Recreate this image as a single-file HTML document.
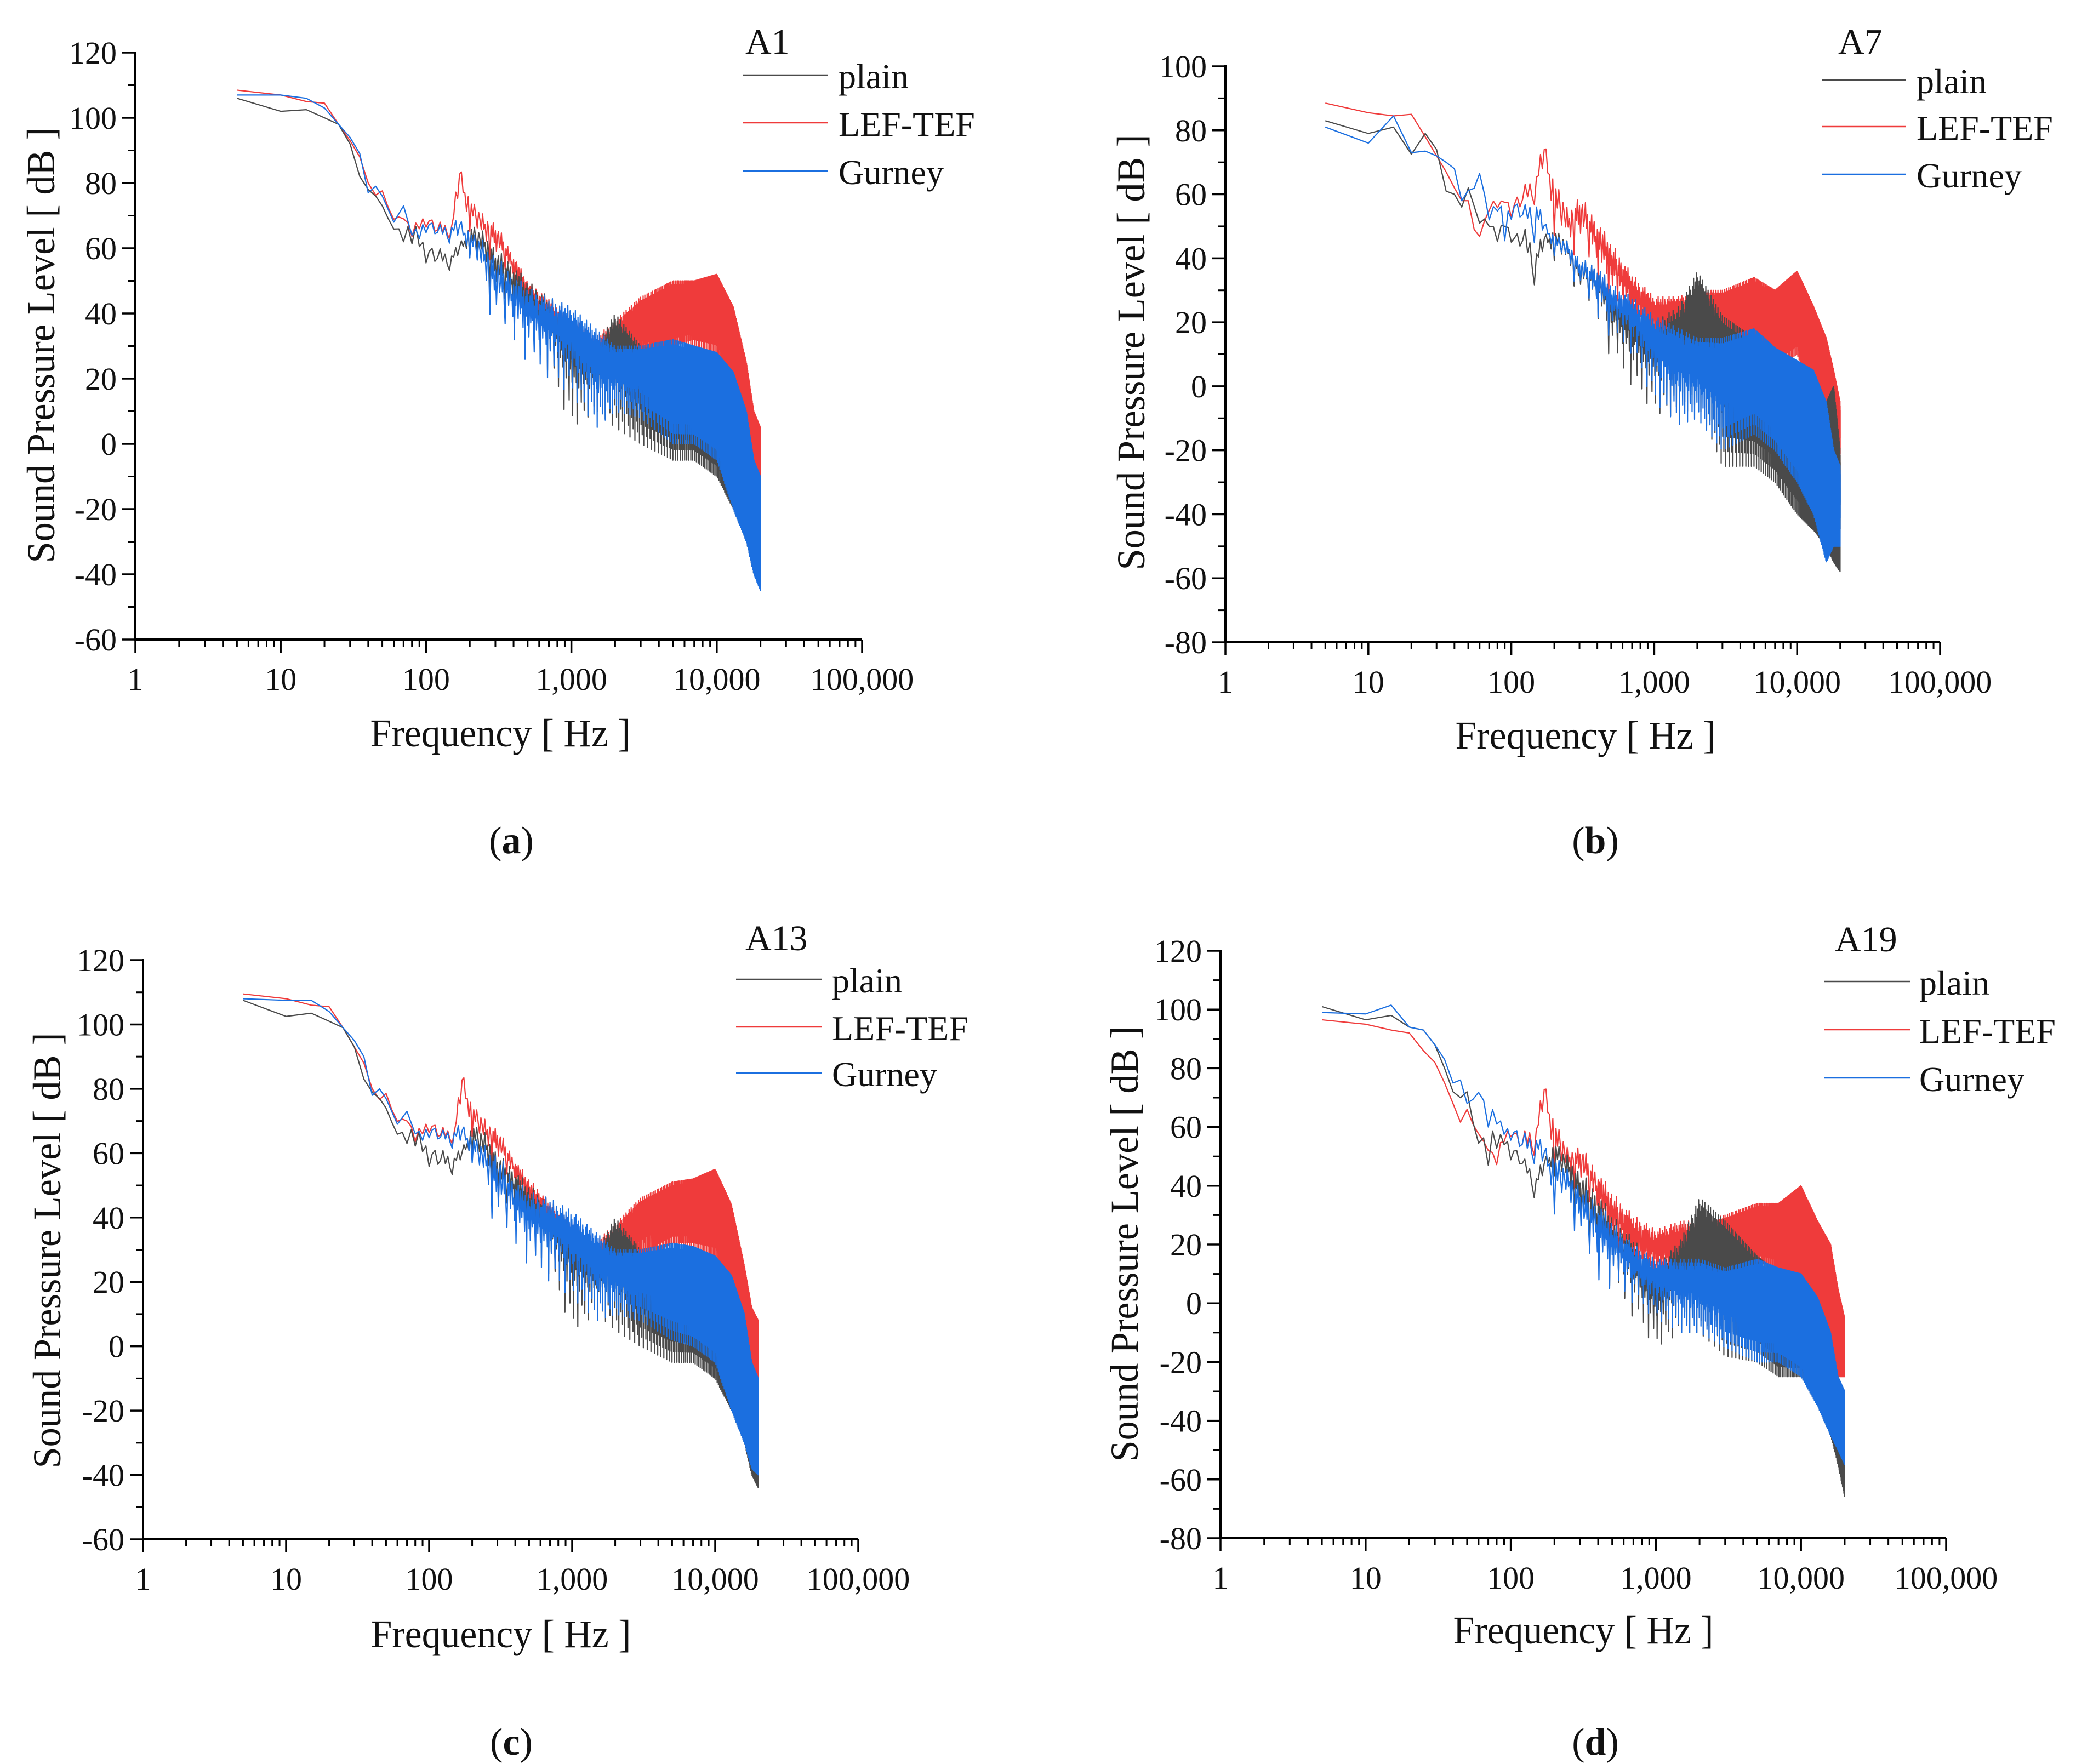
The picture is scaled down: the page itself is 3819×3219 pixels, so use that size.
<!DOCTYPE html>
<html><head><meta charset="utf-8"><style>
html,body{margin:0;padding:0;background:#fff;}
svg{display:block;}
text{font-family:"Liberation Serif",serif;fill:#111;}
</style></head><body>
<svg id="fig" width="3819" height="3219" viewBox="0 0 3819 3219" xmlns="http://www.w3.org/2000/svg"></svg>
<script>
// Shared frequency breakpoints (Hz) at which envelopes were read
const freqs = [5,10,15,20,25,30,35,40,45,50,60,70,80,90,100,120,150,170,200,250,300,400,500,700,1000,1500,2000,3000,5000,7000,10000,13000,16000,18000,20000];
// Panel a (A1)
const aPlainHi = [106,102,102.5,100,98,92,82,78,76,73,66,68,69,66,62,60,59,62,68,65,60,55,50,45,40,30,40,30,28,26,24,16,5,-10,-30];
const aPlainLo = [106,102,102.5,100,98,92,82,78,76,73,65,62,50,55,52,50,52,55,56,52,45,38,30,22,5,10,5,0,-5,-5,-10,-20,-30,-40,-42];
const aLefHi = [108.5,107,105,104.5,98,93,88,80,77,78,69,71,66,70,71,68,68,87,76,70,68,58,50,45,40,33,38,45,50,50,52,42,25,10,5];
const aLefLo = [108.5,107,105,104.5,98,93,88,78,75,76,68,69,60,62,64,60,62,70,64,58,55,48,40,30,20,15,18,22,28,30,28,20,0,-8,-10];
const aGurHi = [107,107,106,103,98,94,89,77,79,76,68,73,64,68,70,67,68,70,66,62,58,52,48,45,42,35,30,30,32,30,28,22,10,-5,-10];
const aGurLo = [107,107,106,103,98,94,89,77,79,76,68,73,64,58,62,60,60,58,56,45,35,30,25,20,15,5,10,8,0,0,-5,-20,-30,-40,-45];
// Panel b (A7)
const bPlainHi = [83,79,81,72.5,79,74,61,60,56,62,51,55,46,55,47,50,45,48,50,45,40,38,32,25,20,25,36,22,15,10,5,0,-5,0,-20];
const bPlainLo = [83,79,81,72.5,79,74,61,60,56,62,51,50,44,45,44,35,27,40,38,35,28,20,8,0,-8,-10,-5,-25,-25,-30,-40,-45,-50,-55,-58];
const bLefHi = [88.5,85.5,84.5,85,78,72,67,62,58,58,48,60,57,59,58,62,68,78,66,55,60,52,45,35,28,28,30,30,34,30,36,25,15,5,-5];
const bLefLo = [88.5,85.5,84.5,85,78,72,67,62,58,58,36,55,54,56,50,50,55,62,45,40,42,32,25,18,10,12,15,12,10,5,10,-5,-15,-25,-30];
const bGurHi = [81,76,84.5,73,73.5,72,70,68,58,62,67,56,58,56,60,56,60,52,48,45,40,38,32,28,22,18,15,15,18,12,8,5,-5,-20,-25];
const bGurLo = [81,76,84.5,73,73.5,72,70,68,58,58,62,52,50,35,48,48,40,45,40,36,30,20,15,10,-5,-12,-10,-20,-15,-20,-30,-40,-55,-50,-50];
// Panel c (A13)
const cPlainHi = [107.5,102.5,103.5,101,99,93,83,79,77,74,66,69,69,66,63,61,60,62,70,66,60,55,50,45,40,30,40,30,28,26,24,16,5,-10,-30];
const cPlainLo = [107.5,102.5,103.5,101,99,93,83,79,77,74,65,63,52,55,52,50,52,55,57,52,45,38,30,22,5,10,5,0,-5,-5,-10,-20,-30,-40,-44];
const cLefHi = [109.5,108,106,105.5,99,93,88,80,77,79,70,72,66,70,71,68,68,87,76,70,68,58,52,45,40,33,38,46,51,52,55,44,25,12,8];
const cLefLo = [109.5,108,106,105.5,99,93,88,78,76,77,69,70,60,62,64,60,62,70,64,58,55,48,40,32,22,15,20,24,30,30,28,20,0,-8,-10];
const cGurHi = [108,107.5,107.5,104,99,95,90,78,80,77,69,73,66,68,70,67,68,70,66,62,60,52,48,46,42,35,30,30,32,31,28,22,10,-5,-10];
const cGurLo = [108,107.5,107.5,104,99,95,90,78,80,77,69,73,66,60,62,60,60,58,56,45,35,30,25,20,15,8,10,8,2,0,-5,-20,-30,-38,-40];
// Panel d (A19)
const dPlainHi = [101,96.5,98,94,93,88,80,72,70,72,55,64,58,58,56,50,45,50,56,50,45,38,30,22,12,22,36,28,16,10,5,-5,-15,-25,-30];
const dPlainLo = [101,96.5,98,94,93,88,80,72,70,72,50,47,45,50,45,42,32,40,42,35,25,10,5,-5,-15,-10,-10,-18,-20,-25,-25,-35,-45,-55,-66];
const dLefHi = [96.5,95,93,92,86,82,75,68,62,66,58,54,50,60,60,58,62,77,64,52,54,45,38,30,25,28,28,30,34,34,40,28,20,5,-5];
const dLefLo = [96.5,95,93,92,86,82,75,68,61,66,55,52,43,50,55,45,48,60,42,40,38,25,15,8,5,5,10,8,12,10,5,-5,-15,-25,-25];
const dGurHi = [99,98.5,101.5,94,93,88,83,75,76,68,72,70,65,60,62,58,58,55,52,45,40,35,28,20,15,15,15,12,15,12,10,2,-10,-25,-30];
const dGurLo = [99,98.5,101.5,94,93,88,83,75,76,68,70,60,55,55,52,45,45,40,28,30,20,5,5,0,-5,-10,-10,-15,-20,-20,-25,-35,-45,-50,-55];
// Axis tick labels
const xTickLabels = ["1","10","100","1,000","10,000","100,000"];
const yTicksAC = [120,100,80,60,40,20,0,-20,-40,-60];
const yTicksB = [100,80,60,40,20,0,-20,-40,-60,-80];
const yTicksD = [120,100,80,60,40,20,0,-20,-40,-60,-80];
// Within-band variation cycle (fraction between lower and upper envelope): mostly upper band, rare deep dips
const bandCycle = [0.85,0.6,0.95,0.7,0.45,0.9,0.75,0.55,1,0.65,0.8,0.4,0.9,0.7,0.0,0.85,0.6,0.95,0.5,0.8,0.35,0.75,
                   0.9,0.55,0.7,1,0.6,0.85,0.45,0.2,0.8,0.65,0.95,0.5,0.75,0.9,0.6,0.7,0.4,0.85,0.1];
const legendNames = ["plain","LEF-TEF","Gurney"];
const colors = {plain:"#4a4a4a", lef:"#ef3b3b", gur:"#1b6fe0"};

const NS = "http://www.w3.org/2000/svg";
const svg = document.getElementById('fig');
function el(tag, attrs, parent){
  const e = document.createElementNS(NS, tag);
  for (const k in attrs) e.setAttribute(k, attrs[k]);
  (parent||svg).appendChild(e);
  return e;
}
function interp(f, arr){
  const lf = Math.log10(f);
  if (f <= freqs[0]) return arr[0];
  for (let i=1;i<freqs.length;i++){
    if (f <= freqs[i]){
      const a = Math.log10(freqs[i-1]), b = Math.log10(freqs[i]);
      const t = (lf-a)/(b-a);
      return arr[i-1] + t*(arr[i]-arr[i-1]);
    }
  }
  return arr[arr.length-1];
}

const panels = [
  {id:'a', title:'A1', L:247, R:1573, T:96, B:1167, ymax:120, ymin:-60, ticks:yTicksAC,
   series:[['lef',aLefHi,aLefLo],['plain',aPlainHi,aPlainLo],['gur',aGurHi,aGurLo]],
   tx:1360, ty:98, lx1:1355, lx2:1510, rows:[137,224,312], ltx:1530,
   ytx:75, yty:630, xtx:913, xty:1362, cap:'a', capx:933, capy:1557},
  {id:'b', title:'A7', L:2236, R:3540, T:121, B:1172, ymax:100, ymin:-80, ticks:yTicksB,
   series:[['lef',bLefHi,bLefLo],['plain',bPlainHi,bPlainLo],['gur',bGurHi,bGurLo]],
   tx:3354, ty:98, lx1:3325, lx2:3478, rows:[146,231,318], ltx:3497,
   ytx:2064, yty:643, xtx:2893, xty:1366, cap:'b', capx:2911, capy:1557},
  {id:'c', title:'A13', L:261, R:1566, T:1752, B:2809, ymax:120, ymin:-60, ticks:yTicksAC,
   series:[['lef',cLefHi,cLefLo],['plain',cPlainHi,cPlainLo],['gur',cGurHi,cGurLo]],
   tx:1360, ty:1734, lx1:1343, lx2:1500, rows:[1787,1874,1958], ltx:1518,
   ytx:86, yty:2282, xtx:914, xty:3006, cap:'c', capx:933, capy:3202},
  {id:'d', title:'A19', L:2227, R:3551, T:1735, B:2807, ymax:120, ymin:-80, ticks:yTicksD,
   series:[['lef',dLefHi,dLefLo],['plain',dPlainHi,dPlainLo],['gur',dGurHi,dGurLo]],
   tx:3348, ty:1736, lx1:3328, lx2:3485, rows:[1791,1879,1967], ltx:3502,
   ytx:2052, yty:2270, xtx:2889, xty:2999, cap:'d', capx:2911, capy:3202}
];

panels.forEach(p => {
  const g = el('g', {});
  
  
  const xs = f => p.L + (Math.log10(f)/5)*(p.R-p.L);
  const ys = v => p.B - (v - p.ymin)/(p.ymax - p.ymin)*(p.B-p.T);

  p.series.forEach(([key, hi, lo]) => {
    let d = '';
    for (let k=1;k<=4000;k++){
      const f = 5*k;
      const h = interp(f, hi), l = interp(f, lo);
      const v = l + bandCycle[k % bandCycle.length]*(h-l);
      d += (k===1?'M':'L') + xs(f).toFixed(2) + ' ' + ys(v).toFixed(2);
    }
    const path = el('path', {d:d, fill:'none', stroke:colors[key], 'stroke-width':2.2, 'stroke-linejoin':'round'}, g);
    
    
  });

  const ax = el('path', {d:`M${p.L} ${p.T-2}L${p.L} ${p.B}L${p.R} ${p.B}`, fill:'none', stroke:'#000', 'stroke-width':4}, g);
  
  

  const stepY = p.ticks[0]-p.ticks[1];
  p.ticks.forEach((t,i) => {
    const y = ys(t);
    el('line', {x1:p.L-24, y1:y, x2:p.L, y2:y, stroke:'#000', 'stroke-width':3.5}, g);
    if (i < p.ticks.length-1){
      const ym = ys(t - stepY/2);
      el('line', {x1:p.L-13, y1:ym, x2:p.L, y2:ym, stroke:'#000', 'stroke-width':3}, g);
    }
    const lbl = el('text', {x:p.L-34, y:y+20, 'font-size':58, 'text-anchor':'end'}, g);
    lbl.textContent = String(t);
    
    
  });
  xTickLabels.forEach((lab,i) => {
    const f = Math.pow(10,i);
    const x = xs(f);
    el('line', {x1:x, y1:p.B, x2:x, y2:p.B+24, stroke:'#000', 'stroke-width':3.5}, g);
    if (i < 5){
      for (let m=2;m<=9;m++){
        const xm = xs(f*m);
        el('line', {x1:xm, y1:p.B, x2:xm, y2:p.B+13, stroke:'#000', 'stroke-width':3}, g);
      }
    }
    const lbl = el('text', {x:x, y:p.B+92, 'font-size':58, 'text-anchor':'middle'}, g);
    lbl.textContent = lab;
    
    
  });

  const yt = el('text', {x:0, y:0, 'font-size':72, 'text-anchor':'middle', textLength:795, lengthAdjust:'spacingAndGlyphs',
    transform:`translate(${p.ytx+24},${p.yty}) rotate(-90)`}, g);
  yt.textContent = 'Sound Pressure Level [ dB ]';
  
  
  const xt = el('text', {x:p.xtx, y:p.xty, 'font-size':72, 'text-anchor':'middle', textLength:475, lengthAdjust:'spacingAndGlyphs'}, g);
  xt.textContent = 'Frequency [ Hz ]';
  
  

  const lt = el('text', {x:p.tx, y:p.ty, 'font-size':66}, g);
  lt.textContent = p.title;
  
  
  ['plain','lef','gur'].forEach((key,i) => {
    const ln = el('line', {x1:p.lx1, y1:p.rows[i], x2:p.lx2, y2:p.rows[i], stroke:colors[key], 'stroke-width':2.4}, g);
    
    
    const tx = el('text', {x:p.ltx, y:p.rows[i]+24, 'font-size':64}, g);
    tx.textContent = legendNames[i];
    
    
  });

  const cap = el('text', {x:p.capx, y:p.capy, 'font-size':70, 'text-anchor':'middle'}, g);
  cap.innerHTML = '(<tspan font-weight="bold">' + p.cap + '</tspan>)';
  
  
});
</script>
</body></html>
